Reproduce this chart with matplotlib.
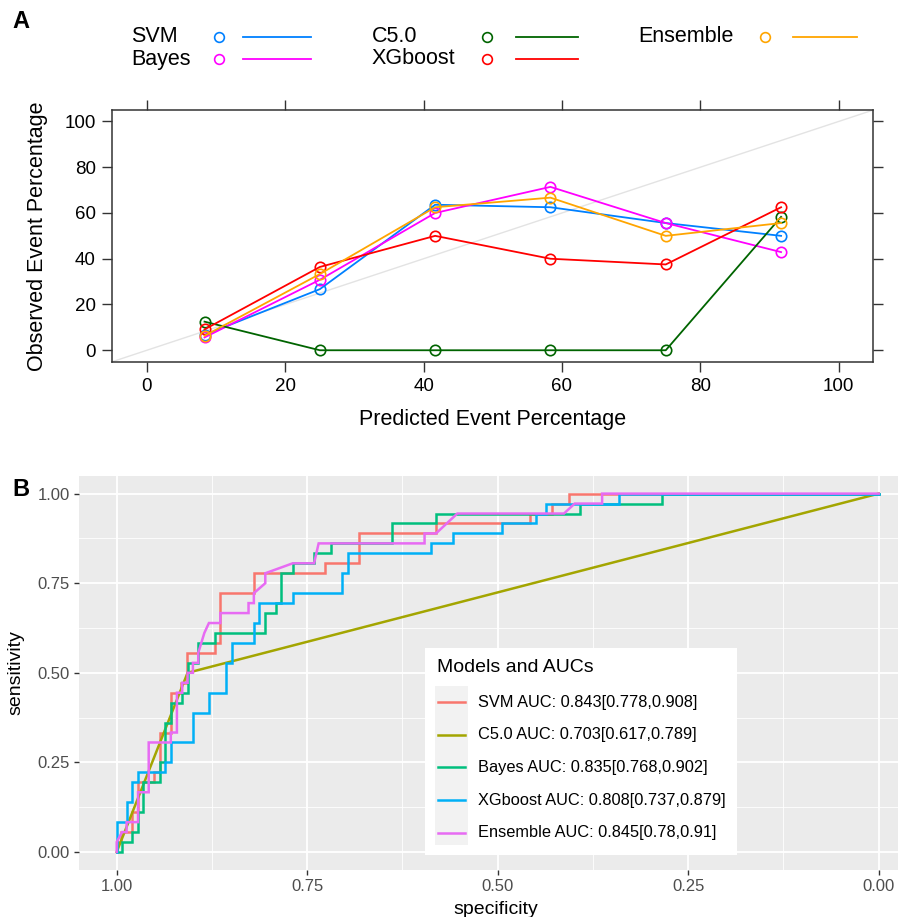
import numpy as np
import matplotlib.pyplot as plt
from matplotlib.lines import Line2D
from matplotlib.patches import Rectangle

plt.rcParams['font.family'] = ['Liberation Sans', 'DejaVu Sans']

# Panel A: calibration (percent per bin)
bin_mid = [8.33, 25.0, 41.67, 58.33, 75.0, 91.67]
cal_svm = [6.7, 26.7, 63.6, 62.5, 55.6, 50.0]
cal_bayes = [5.6, 30.8, 60.0, 71.4, 55.6, 42.9]
cal_c50 = [12.5, 0.0, 0.0, 0.0, 0.0, 58.3]
cal_xgb = [9.1, 36.4, 50.0, 40.0, 37.5, 62.5]
cal_ens = [6.3, 33.3, 62.5, 66.7, 50.0, 55.6]
cal_names = ["SVM", "Bayes", "C5.0", "XGboost", "Ensemble"]
cal_colors = ["#0080ff", "#ff00ff", "#006400", "#ff0000", "#ffa500"]

# Panel B: ROC points (specificity, true positives out of 36)
n_pos = 36
svm_spec = [1, 1, .995, .995, .980, .980, .972, .972, .951, .951, .943, .943, .929, .929,
            .915, .915, .908, .908, .871, .871, .864, .864, .820, .820, .726, .726,
            .682, .682, .581, .581, .458, .458, .429, .429, .406, .406, 0]
svm_tp = [0, 1, 1, 2, 2, 4, 4, 7, 7, 8, 8, 12, 12, 16,
          16, 17, 17, 20, 20, 21, 21, 26, 26, 28, 28, 29,
          29, 32, 32, 33, 33, 34, 34, 35, 35, 36, 36]
c50_spec = [1, .907, 0]
c50_tp = [0, 18, 36]
bayes_spec = [1, .993, .993, .980, .980, .972, .972, .965, .965, .943, .943, .936, .936,
              .929, .929, .914, .914, .907, .907, .893, .893, .871, .871, .805, .805,
              .791, .791, .784, .784, .769, .769, .741, .741, .719, .719, .639, .639,
              .581, .581, .392, .392, .284, .284, 0]
bayes_tp = [0, 0, 1, 1, 2, 2, 4, 4, 7, 7, 9, 9, 13,
            13, 15, 15, 16, 16, 19, 19, 21, 21, 22, 22, 24,
            24, 25, 25, 28, 28, 29, 29, 30, 30, 31, 31, 33,
            33, 34, 34, 35, 35, 36, 36]
xgb_spec = [1, 1, .987, .987, .980, .980, .972, .972, .936, .936, .929, .929, .900, .900,
            .879, .879, .857, .857, .849, .849, .820, .820, .813, .813, .769, .769,
            .704, .704, .697, .697, .588, .588, .559, .559, .494, .494, .450, .450,
            .436, .436, .341, .341, 0]
xgb_tp = [0, 3, 3, 5, 5, 7, 7, 8, 8, 9, 9, 11, 11, 14,
          14, 16, 16, 19, 19, 21, 21, 23, 23, 25, 25, 26,
          26, 28, 28, 30, 30, 31, 31, 32, 32, 33, 33, 34,
          34, 35, 35, 36, 36]
ens_spec = [1, 1, .993, .987, .987, .972, .972, .958, .958, .929, .929, .921, .921,
            .914, .914, .907, .907, .900, .900, .893, .893, .885, .879, .864, .864,
            .827, .827, .820, .820, .805, .805, .769, .741, .735, .596, .596, .581,
            .553, .413, .399, .363, .363, 0]
ens_tp = [0, 1, 2, 2, 3, 3, 6, 6, 11, 11, 12, 12, 16,
          16, 17, 17, 18, 18, 19, 19, 20, 22, 23, 23, 24,
          24, 25, 25, 26, 27, 28, 29, 29, 31, 31, 32, 32,
          34, 34, 35, 35, 36, 36]
roc_labels = ["SVM AUC: 0.843[0.778,0.908]", "C5.0 AUC: 0.703[0.617,0.789]",
              "Bayes AUC: 0.835[0.768,0.902]", "XGboost AUC: 0.808[0.737,0.879]",
              "Ensemble AUC: 0.845[0.78,0.91]"]
roc_colors = ["#F8766D", "#A3A500", "#00BF7D", "#00B0F6", "#E76BF3"]

W, H = 904, 917
fig = plt.figure(figsize=(W / 100, H / 100), dpi=100)


def fx(px):
    return px / W


def fy(py):
    return 1 - py / H


# ---------------- Panel A ----------------
axA = fig.add_axes([fx(112.3), fy(361.7), fx(873.3) - fx(112.3), fy(110) - fy(361.7)])
axA.plot([-5, 105], [-5, 105], color="#e3e3e3", lw=1, zorder=1)
cal_series = [cal_svm, cal_bayes, cal_c50, cal_xgb, cal_ens]
for vals, col in zip(cal_series, cal_colors):
    axA.plot(bin_mid, vals, color=col, lw=1.3, marker="o", ms=7.5, mfc="none",
             mec=col, mew=1.2, zorder=3)
axA.set_xlim(-5, 105)
axA.set_ylim(-5, 105)
axA.set_xticks(range(0, 101, 20))
axA.set_yticks(range(0, 101, 20))
axA.tick_params(direction="out", length=7, width=1, colors="#333333",
                labelsize=13.5, labelcolor="black", top=True, right=True, pad=5)
for sp in axA.spines.values():
    sp.set_color("#333333")
    sp.set_linewidth(1.1)
axA.set_xlabel("Predicted Event Percentage", fontsize=15.5, labelpad=10)
axA.set_ylabel("Observed Event Percentage", fontsize=15.5, labelpad=12)

# lattice-style key on top
key_cols = [(131, 219, 243, 311), (372, 487, 516, 578), (638, 765, 793, 857)]
key_rows = [37, 59]
for i, (name, col) in enumerate(zip(cal_names, cal_colors)):
    tx, mx, l0, l1 = key_cols[i // 2]
    yy = key_rows[i % 2]
    fig.text(fx(tx), fy(yy), name, fontsize=15.5, ha="left", va="center")
    fig.add_artist(Line2D([fx(mx)], [fy(yy)], marker="o", ms=7, mfc="none",
                          mec=col, mew=1.2, transform=fig.transFigure))
    fig.add_artist(Line2D([fx(l0), fx(l1)], [fy(yy), fy(yy)], color=col, lw=1.3,
                          transform=fig.transFigure))

fig.text(fx(12), fy(22), "A", fontsize=17, fontweight="bold", ha="left", va="center")

# ---------------- Panel B ----------------
axB = fig.add_axes([fx(78.6), fy(869.9), fx(898) - fx(78.6), fy(475.7) - fy(869.9)])
axB.set_facecolor("#EBEBEB")
axB.set_xlim(1.05, -0.0253)
axB.set_ylim(-0.05, 1.05)
ticks = [0, 0.25, 0.5, 0.75, 1.0]
minor = [0.125, 0.375, 0.625, 0.875]
axB.set_xticks(ticks)
axB.set_yticks(ticks)
axB.set_xticklabels(["0.00", "0.25", "0.50", "0.75", "1.00"])
axB.set_yticklabels(["0.00", "0.25", "0.50", "0.75", "1.00"])
axB.set_xticks(minor, minor=True)
axB.set_yticks(minor, minor=True)
axB.grid(which="major", color="white", lw=1.3)
axB.grid(which="minor", color="white", lw=0.6)
axB.set_axisbelow(True)
axB.tick_params(which="major", length=3.5, width=1, color="#333333",
                labelsize=12, labelcolor="#4D4D4D", pad=3)
axB.tick_params(which="minor", length=0)
for sp in axB.spines.values():
    sp.set_visible(False)
axB.set_xlabel("specificity", fontsize=14)
axB.xaxis.set_label_coords((496 - 78.6) / (898 - 78.6), -0.078)
axB.set_ylabel("sensitivity", fontsize=14, labelpad=9)

roc_spec = [svm_spec, c50_spec, bayes_spec, xgb_spec, ens_spec]
roc_tp = [svm_tp, c50_tp, bayes_tp, xgb_tp, ens_tp]
for sp_, tp_, col in zip(roc_spec, roc_tp, roc_colors):
    axB.plot(sp_, np.array(tp_) / n_pos, color=col, lw=1.8, solid_joinstyle="miter")

# legend box
fig.add_artist(Rectangle((fx(425), fy(855)), fx(737) - fx(425), fy(648) - fy(855),
                         facecolor="white", edgecolor="none", transform=fig.transFigure))
fig.add_artist(Rectangle((fx(435), fy(845)), fx(468) - fx(435), fy(686) - fy(845),
                         facecolor="#F2F2F2", edgecolor="none", transform=fig.transFigure))
fig.text(fx(437), fy(667), "Models and AUCs", fontsize=14, ha="left", va="center")
for i, (lab, col) in enumerate(zip(roc_labels, roc_colors)):
    yy = 702 + i * 32.7
    fig.add_artist(Line2D([fx(438), fx(465)], [fy(yy), fy(yy)], color=col, lw=1.8,
                          transform=fig.transFigure))
    fig.text(fx(478), fy(yy), lab, fontsize=11.8, ha="left", va="center")

fig.text(fx(12), fy(490), "B", fontsize=17, fontweight="bold", ha="left", va="center")

fig.savefig("out.png", dpi=100)
